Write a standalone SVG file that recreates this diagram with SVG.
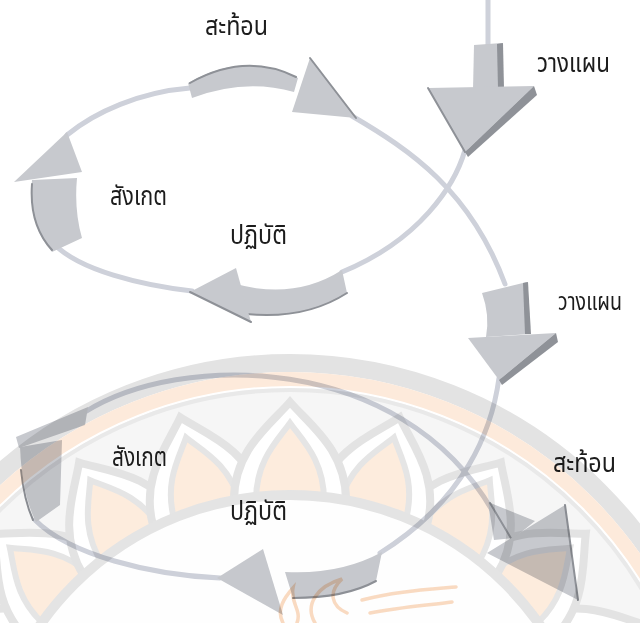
<svg xmlns="http://www.w3.org/2000/svg" width="640" height="623" viewBox="0 0 640 623">
  <style>
    .line { fill: none; stroke: #ced1da; stroke-width: 5; stroke-linecap: round; filter: url(#soft); }
    .arrow { fill: #c7c9ce; filter: url(#soft); }
    .shade { fill: #8f9298; filter: url(#soft); }
    .edge { fill: none; stroke: #8e9197; stroke-width: 2; stroke-linejoin: round; stroke-linecap: round; filter: url(#soft); }
    .label { font-family: "Noto Sans Thai", "Noto Sans", "DejaVu Sans", sans-serif; font-size: 26px; fill: #1c1c1c; }
    .wm-line { fill: none; stroke: #f7cba6; stroke-width: 3.5; stroke-linecap: round; opacity: 0.7; }
    .petal-o { fill: #ffffff; stroke: #e3e3e3; stroke-width: 8; }
    .petal-i { fill: #fdecdd; stroke: #e5e5e5; stroke-width: 6; }
    .cycle { mix-blend-mode: multiply; }
  </style>
  <defs>
    <filter id="soft" filterUnits="userSpaceOnUse" x="0" y="0" width="640" height="623">
      <feGaussianBlur stdDeviation="0.6"/>
    </filter>
    <path id="petal-outer" d="M-56,-300 C-56,-350 -20,-375 0,-398 C20,-375 56,-350 56,-300 Z"/>
    <path id="petal-inner" d="M-34,-300 C-34,-340 -12,-360 0,-377 C12,-360 34,-340 34,-300 Z"/>
    <g id="petal">
      <use href="#petal-outer" class="petal-o"/>
      <use href="#petal-inner" class="petal-i"/>
    </g>
  </defs>

  <rect width="640" height="623" fill="#ffffff"/>

  <!-- faint emblem in the background -->
  <g id="watermark">
    <circle cx="290" cy="800" r="412" fill="#f6f6f6"/>
    <g transform="translate(290 800)">
      <use href="#petal" transform="rotate(-80)"/>
      <use href="#petal" transform="rotate(80)"/>
      <use href="#petal" transform="rotate(-64)"/>
      <use href="#petal" transform="rotate(64)"/>
      <use href="#petal" transform="rotate(-48)"/>
      <use href="#petal" transform="rotate(48)"/>
      <use href="#petal" transform="rotate(-32)"/>
      <use href="#petal" transform="rotate(32)"/>
      <use href="#petal" transform="rotate(-16)"/>
      <use href="#petal" transform="rotate(16)"/>
      <use href="#petal"/>
    </g>
    <circle cx="290" cy="800" r="305" fill="#fefefe" stroke="#e4e4e4" stroke-width="10"/>
    <circle cx="290" cy="800" r="437" fill="none" stroke="#e3e3e3" stroke-width="18"/>
    <circle cx="290" cy="800" r="421" fill="none" stroke="#fdeadb" stroke-width="14"/>
    <circle cx="290" cy="800" r="410" fill="none" stroke="#e9e9e9" stroke-width="4"/>
    <path class="wm-line" d="M283,623 C276,610 284,598 293,588 C290,603 302,610 297,623"/>
    <path class="wm-line" d="M315,623 C304,604 318,586 342,579 C328,592 331,606 347,613"/>
    <path class="wm-line" d="M362,600 C392,592 422,590 456,587"/>
    <path class="wm-line" d="M370,613 C400,607 430,605 452,602"/>
  </g>

  <g class="cycle">
    <!-- loop lines joining the stages -->
    <g id="connectors">
      <path class="line" d="M488,0 L488,46" stroke-width="7"/>
      <path class="line" d="M67,135 C95,112 140,92 190,88"/>
      <path class="line" d="M352,116 C410,150 470,190 505,284"/>
      <path class="line" d="M465,150 C455,185 420,240 342,272"/>
      <path class="line" d="M192,291 C140,285 80,270 55,245"/>
      <path class="line" d="M499,378 C492,430 465,500 380,553"/>
      <path class="line" d="M220,578 C150,575 70,555 35,520"/>
      <path class="line" d="M85,412 C180,352 400,352 492,510"/>
    </g>

    <!-- first cycle -->
    <g id="plan-1">
      <path class="arrow" d="M474,45 L502,43 L503,89 L473,90 Z"/>
      <path class="shade" d="M497,44 L503,43 L504,89 L498,89 Z"/>
      <path class="arrow" d="M428,88 L534,86 L465,152 Z"/>
      <path class="shade" d="M534,86 L537,95 L468,157 L465,152 Z"/>
      <path class="edge" d="M428,88 L465,152"/>
      <text class="label" x="537" y="72" textLength="73" lengthAdjust="spacingAndGlyphs">วางแผน</text>
    </g>

    <g id="act-1">
      <path class="arrow" d="M342,270 Q295,300 236,284 L246,314 Q305,320 347,293 Z"/>
      <path class="edge" d="M246,314 Q305,320 347,293"/>
      <path class="arrow" d="M236,268 L251,322 L190,292 Z"/>
      <path class="edge" d="M251,322 L190,292"/>
      <text class="label" x="230" y="244" textLength="57" lengthAdjust="spacingAndGlyphs">ปฏิบัติ</text>
    </g>

    <g id="observe-1">
      <path class="arrow" d="M32,180 Q28,225 52,252 L82,238 Q74,210 77,178 Z"/>
      <path class="edge" d="M32,184 Q29,225 52,250"/>
      <path class="arrow" d="M14,182 L82,172 L67,132 Z"/>
      <text class="label" x="110" y="205" textLength="57" lengthAdjust="spacingAndGlyphs">สังเกต</text>
    </g>

    <g id="reflect-1">
      <path class="arrow" d="M188,83 Q245,50 298,78 L294,92 Q245,78 192,98 Z"/>
      <path class="edge" d="M190,83 Q245,52 296,77"/>
      <path class="arrow" d="M310,58 L292,112 L356,118 Z"/>
      <path class="edge" d="M310,58 L356,118"/>
      <text class="label" x="205" y="35" textLength="63" lengthAdjust="spacingAndGlyphs">สะท้อน</text>
    </g>

    <!-- second cycle -->
    <g id="plan-2">
      <path class="arrow" d="M482,293 L527,282 L530,334 L486,337 Q490,315 482,293 Z"/>
      <path class="shade" d="M523,283 L528,282 L531,334 L525,334 Z"/>
      <path class="arrow" d="M468,338 L556,333 L499,380 Z"/>
      <path class="shade" d="M556,333 L558,342 L502,385 L499,380 Z"/>
      <text class="label" x="558" y="310" font-size="24" style="font-size:24px" textLength="64" lengthAdjust="spacingAndGlyphs">วางแผน</text>
    </g>

    <g id="act-2">
      <path class="arrow" d="M382,552 Q340,575 285,572 L293,598 Q345,598 376,581 Z"/>
      <path class="edge" d="M293,598 Q345,598 376,581"/>
      <path class="arrow" d="M263,549 L283,615 L217,578 Z"/>
      <text class="label" x="230" y="520" textLength="57" lengthAdjust="spacingAndGlyphs">ปฏิบัติ</text>
    </g>

    <g id="observe-2">
      <path class="arrow" d="M20,447 L62,440 L60,505 L36,522 Q22,495 20,447 Z"/>
      <path class="edge" d="M21,470 Q24,500 33,520"/>
      <path class="arrow" d="M16,437 L88,407 L85,425 L19,448 Z"/>
      <text class="label" x="112" y="466" textLength="55" lengthAdjust="spacingAndGlyphs">สังเกต</text>
    </g>

    <g id="reflect-2">
      <path class="arrow" d="M488,502 L535,521 L514,538 L494,540 Z"/>
      <path class="edge" d="M490,503 L512,540"/>
      <path class="arrow" d="M487,553 L565,505 L578,600 Z"/>
      <path class="edge" d="M565,505 L578,600"/>
      <text class="label" x="553" y="472" textLength="63" lengthAdjust="spacingAndGlyphs">สะท้อน</text>
    </g>
  </g>
</svg>
